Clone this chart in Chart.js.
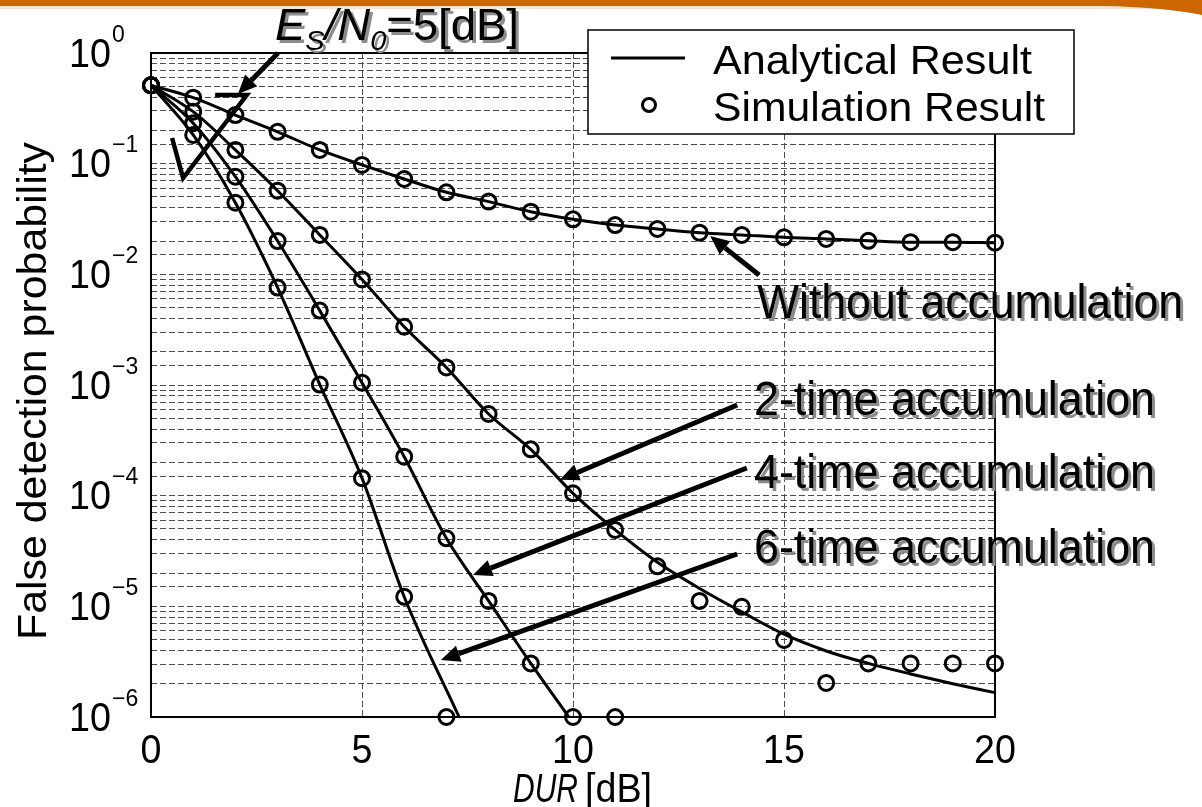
<!DOCTYPE html>
<html>
<head>
<meta charset="utf-8">
<script src="https://cdn.jsdelivr.net/npm/chart.js@4.4.1/dist/chart.umd.min.js"></script>
<style>
  html, body { margin: 0; padding: 0; background: #fff; overflow: hidden; }
  #wrap { width: 1202px; height: 807px; }
</style>
</head>
<body>
<div id="wrap"><canvas id="c" width="1202" height="807"></canvas></div>
<script>
// ---- data: false detection probability vs DUR [dB], Es/N0 = 5 dB ----
const DUR_DB = [0,1,2,3,4,5,6,7,8,9,10,11,12,13,14,15,16,17,18,19,20];

// simulation results (circles)
const SIM_NO_ACC = [0.51,0.395,0.275,0.194,0.133,0.0975,0.0727,0.0551,0.0454,0.0368,0.0314,
                    0.0279,0.0257,0.0238,0.0227,0.0216,0.0209,0.0201,0.0195,0.0195,0.0193];
const SIM_ACC2   = [0.51,0.295,0.133,0.057,0.0227,0.0090,3.36e-3,1.44e-3,5.47e-4,2.62e-4,1.05e-4,
                    4.9e-5,2.3e-5,1.12e-5,9.9e-6,4.97e-6,2.03e-6,3.05e-6,3.05e-6,3.05e-6,3.05e-6];
const SIM_ACC4_X = [0,1,2,3,4,5,6,7,8,9,10,11];
const SIM_ACC4   = [0.51,0.232,0.0762,0.020,4.7e-3,1.05e-3,2.25e-4,4.12e-5,1.12e-5,3.05e-6,1e-6,1e-6];
const SIM_ACC6_X = [0,1,2,3,4,5,6,7];
const SIM_ACC6   = [0.51,0.182,0.0444,0.0076,1.01e-3,1.44e-4,1.22e-5,1e-6];

// analytical results (lines)
const ANA_NO_ACC = [0.51,0.395,0.275,0.194,0.133,0.0975,0.0727,0.0551,0.0454,0.0368,0.0314,
                    0.0279,0.0257,0.0238,0.0227,0.0216,0.0209,0.0201,0.0195,0.0195,0.0193];
const ANA_ACC2   = [0.51,0.295,0.133,0.057,0.0227,0.0090,3.36e-3,1.44e-3,5.47e-4,2.62e-4,1.05e-4,
                    4.9e-5,2.5e-5,1.45e-5,8.9e-6,5.6e-6,3.95e-6,3.05e-6,2.45e-6,2.0e-6,1.66e-6];
const ANA_ACC4_X = [0,1,2,3,4,5,6,7,8,9,9.9];
const ANA_ACC4   = [0.51,0.232,0.0762,0.020,4.7e-3,1.05e-3,2.25e-4,4.12e-5,1.12e-5,3.05e-6,1e-6];
const ANA_ACC6_X = [0,1,2,3,4,5,6,7.3];
const ANA_ACC6   = [0.51,0.182,0.0444,0.0076,1.01e-3,1.44e-4,1.22e-5,1e-6];

// axes
const X_TICKS = [0,5,10,15,20];
const Y_DECADES = [0,-1,-2,-3,-4,-5,-6];

// call-out arrows, in data units [DUR dB, probability]
const ARROWS = [
  { from: [3.01, 1.0],     to: [2.06, 0.426] },
  { from: [14.41, 0.00986], to: [13.25, 0.0222] },
  { from: [13.89, 6.6e-4],  to: [9.69, 1.39e-4] },
  { from: [14.12, 1.78e-4], to: [7.63, 1.92e-5] },
  { from: [13.89, 2.97e-5], to: [6.87, 3.27e-6] }
];
// hand-drawn mark next to the converging curves
const MARK = [[1.52, 0.417], [2.27, 0.417], [0.76, 0.0742], [0.50, 0.1706]];

const CURVE_LABELS = ['Without accumulation', '2-time accumulation', '4-time accumulation', '6-time accumulation'];

// ---- helpers ----
const FAMILY = '"Liberation Sans", Arial, sans-serif';
const pts = (xs, ys) => xs.map((x, i) => ({ x: x, y: ys[i] }));

function fontStr(s) {
  return (s.italic ? 'italic ' : '') + s.size + 'px ' + FAMILY;
}
// draw a run of styled segments, squeezed/stretched horizontally to a target width
function drawRich(ctx, segs, x, y, targetW, shadow) {
  let total = 0;
  segs.forEach(s => { ctx.font = fontStr(s); s.w = ctx.measureText(s.t).width; total += s.w; });
  const sx = targetW ? targetW / total : 1;
  ctx.save();
  if (shadow) {
    ctx.shadowColor = '#8c8c8c';
    ctx.shadowOffsetX = 3;
    ctx.shadowOffsetY = 3;
    ctx.shadowBlur = 0;
  }
  ctx.translate(x, y);
  ctx.scale(sx, 1);
  ctx.fillStyle = '#000';
  ctx.textAlign = 'left';
  ctx.textBaseline = 'alphabetic';
  let cx = 0;
  segs.forEach(s => { ctx.font = fontStr(s); ctx.fillText(s.t, cx, s.dy || 0); cx += s.w; });
  ctx.restore();
}
function drawArrow(ctx, x1, y1, x2, y2) {
  const ang = Math.atan2(y2 - y1, x2 - x1);
  const hl = 19, hw = 8.5;
  const bx = x2 - hl * Math.cos(ang), by = y2 - hl * Math.sin(ang);
  ctx.save();
  ctx.strokeStyle = '#000';
  ctx.fillStyle = '#000';
  ctx.lineWidth = 5;
  ctx.lineCap = 'butt';
  ctx.beginPath(); ctx.moveTo(x1, y1); ctx.lineTo(bx, by); ctx.stroke();
  ctx.beginPath();
  ctx.moveTo(x2, y2);
  ctx.lineTo(bx + hw * Math.sin(ang), by - hw * Math.cos(ang));
  ctx.lineTo(bx - hw * Math.sin(ang), by + hw * Math.cos(ang));
  ctx.closePath(); ctx.fill();
  ctx.restore();
}

// ---- plugins ----
const backdrop = {
  id: 'backdrop',
  beforeDraw(chart) {
    const ctx = chart.ctx, W = chart.width;
    ctx.save();
    ctx.fillStyle = '#fff';
    ctx.fillRect(0, 0, W, chart.height);
    ctx.fillStyle = 'rgba(204,102,0,0.18)';
    ctx.fillRect(0, 6, W, 3);
    ctx.fillStyle = '#CC6600';
    ctx.beginPath();
    ctx.moveTo(0, 0); ctx.lineTo(W, 0); ctx.lineTo(W, 15);
    ctx.quadraticCurveTo(W - 40, 7, W - 100, 6);
    ctx.lineTo(0, 6); ctx.closePath(); ctx.fill();
    ctx.restore();
  }
};

const frame = {
  id: 'frame',
  beforeDatasetsDraw(chart) {
    const { ctx, chartArea: a } = chart;
    ctx.save();
    ctx.strokeStyle = '#000';
    ctx.lineWidth = 2;
    ctx.strokeRect(a.left, a.top, a.right - a.left, a.bottom - a.top);
    ctx.restore();
  }
};

const overlay = {
  id: 'overlay',
  afterDraw(chart) {
    const ctx = chart.ctx, a = chart.chartArea;
    const xs = chart.scales.x, ys = chart.scales.y;
    const P = (d) => [xs.getPixelForValue(d[0]), ys.getPixelForValue(d[1])];

    // y tick labels 10^n
    Y_DECADES.forEach(e => {
      const gy = ys.getPixelForValue(Math.pow(10, e));
      ctx.save();
      ctx.font = '41px ' + FAMILY;
      ctx.fillStyle = '#000';
      ctx.textBaseline = 'alphabetic';
      ctx.translate(a.left - 40, gy + 13.5);
      ctx.scale(0.92, 1);
      ctx.textAlign = 'right';
      ctx.fillText('10', 0, 0);
      ctx.restore();
      ctx.save();
      ctx.font = '23px ' + FAMILY;
      ctx.fillStyle = '#000';
      ctx.textAlign = 'left';
      ctx.fillText(e === 0 ? '0' : '\u2212' + (-e), a.left - 39, gy - 11.5);
      ctx.restore();
    });
    // x tick labels
    X_TICKS.forEach(v => {
      const px = xs.getPixelForValue(v);
      ctx.save();
      ctx.font = '40px ' + FAMILY;
      ctx.fillStyle = '#000';
      ctx.translate(px, a.bottom + 46);
      ctx.scale(0.94, 1);
      ctx.textAlign = 'center';
      ctx.fillText(String(v), 0, 0);
      ctx.restore();
    });

    // axis titles
    ctx.save();
    ctx.translate(46, 640);
    ctx.rotate(-Math.PI / 2);
    drawRich(ctx, [{ t: 'False detection probability', size: 41 }], 0, 0, 498, false);
    ctx.restore();
    drawRich(ctx, [{ t: 'DUR', size: 41, italic: true }], 513, 802, 65, false);
    drawRich(ctx, [{ t: '[dB]', size: 40 }], 585, 802, 67, false);

    // legend
    ctx.save();
    ctx.fillStyle = '#fff';
    ctx.fillRect(588, 30, 486, 104);
    ctx.strokeStyle = '#000';
    ctx.lineWidth = 1.5;
    ctx.strokeRect(588, 30, 486, 104);
    ctx.lineWidth = 3;
    ctx.beginPath(); ctx.moveTo(611, 58); ctx.lineTo(685, 58); ctx.stroke();
    ctx.beginPath(); ctx.arc(649, 105, 6.5, 0, Math.PI * 2); ctx.stroke();
    ctx.restore();
    drawRich(ctx, [{ t: 'Analytical Result', size: 40 }], 713, 74, 319, false);
    drawRich(ctx, [{ t: 'Simulation Result', size: 40 }], 713, 121, 332, false);

    // Es/N0 label
    drawRich(ctx, [
      { t: 'E', size: 44, italic: true },
      { t: 'S', size: 28, italic: true, dy: 10 },
      { t: '/', size: 44, italic: true },
      { t: 'N', size: 44, italic: true },
      { t: '0', size: 28, italic: true, dy: 10 },
      { t: '=5[dB]', size: 44 }
    ], 275, 40, 244, true);

    // curve labels
    drawRich(ctx, [{ t: CURVE_LABELS[0], size: 48 }], 757, 318, 426, true);
    drawRich(ctx, [{ t: CURVE_LABELS[1], size: 48 }], 754, 415, 401, true);
    drawRich(ctx, [{ t: CURVE_LABELS[2], size: 48 }], 754, 488, 401, true);
    drawRich(ctx, [{ t: CURVE_LABELS[3], size: 48 }], 754, 563, 401, true);

    // arrows
    ARROWS.forEach(ar => {
      const p1 = P(ar.from), p2 = P(ar.to);
      drawArrow(ctx, p1[0], p1[1], p2[0], p2[1]);
    });
    // mark
    ctx.save();
    ctx.strokeStyle = '#000';
    ctx.lineWidth = 4.5;
    ctx.lineJoin = 'miter';
    ctx.beginPath();
    MARK.forEach((m, i) => { const p = P(m); if (i === 0) ctx.moveTo(p[0], p[1]); else ctx.lineTo(p[0], p[1]); });
    ctx.stroke();
    ctx.restore();
  }
};

// ---- chart ----
const lineDs = (data) => ({
  type: 'line', data: data, showLine: true, borderColor: '#000', borderWidth: 3,
  pointRadius: 0, fill: false, cubicInterpolationMode: 'monotone', clip: false
});
const simDs = (data) => ({
  type: 'scatter', data: data, showLine: false, pointStyle: 'circle', pointRadius: 7.5,
  pointBorderWidth: 3, pointBorderColor: '#000', pointBackgroundColor: 'rgba(0,0,0,0)', clip: false
});

new Chart(document.getElementById('c'), {
  type: 'scatter',
  data: {
    datasets: [
      lineDs(pts(DUR_DB, ANA_NO_ACC)),
      lineDs(pts(DUR_DB, ANA_ACC2)),
      lineDs(pts(ANA_ACC4_X, ANA_ACC4)),
      lineDs(pts(ANA_ACC6_X, ANA_ACC6)),
      simDs(pts(DUR_DB, SIM_NO_ACC)),
      simDs(pts(DUR_DB, SIM_ACC2)),
      simDs(pts(SIM_ACC4_X, SIM_ACC4)),
      simDs(pts(SIM_ACC6_X, SIM_ACC6))
    ]
  },
  options: {
    responsive: false,
    animation: false,
    events: [],
    layout: { padding: { left: 151, top: 53, right: 207, bottom: 90 } },
    plugins: { legend: { display: false }, tooltip: { enabled: false }, title: { display: false } },
    scales: {
      x: {
        type: 'linear', min: 0, max: 20,
        ticks: { display: false, stepSize: 5 },
        grid: { color: '#4d4d4d', lineWidth: 1, drawTicks: false },
        border: { display: false, dash: [6, 3] }
      },
      y: {
        type: 'logarithmic', min: 1e-6, max: 1,
        ticks: { display: false, autoSkip: false },
        grid: { color: '#4d4d4d', lineWidth: 1, drawTicks: false },
        border: { display: false, dash: [6, 3] }
      }
    }
  },
  plugins: [backdrop, frame, overlay]
});
</script>
</body>
</html>
